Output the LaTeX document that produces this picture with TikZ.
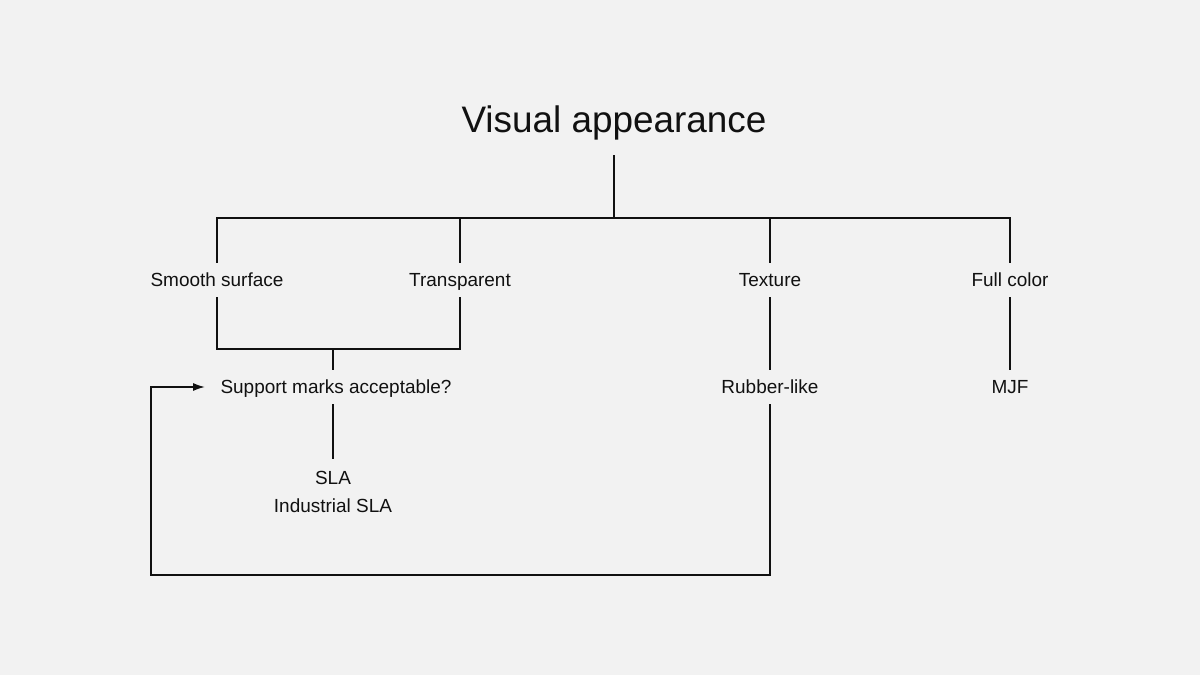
\documentclass[tikz,border=0pt]{standalone}
\usepackage{fontspec}
\setmainfont{Liberation Sans}
\usetikzlibrary{arrows.meta}
\definecolor{bg}{HTML}{F2F2F2}
\definecolor{ink}{HTML}{111111}
\begin{document}
\begin{tikzpicture}[x=0.02cm,y=-0.02cm,
  wire/.style={draw=ink,line width=1.1pt},
  lbl/.style={font=\fontsize{10.8}{13}\selectfont, text=ink, inner sep=0pt, text height=7.7pt, text depth=0pt, minimum height=0.68cm},
  ttl/.style={font=\fontsize{21}{25}\selectfont, text=ink, inner sep=0pt, text height=15pt, text depth=0pt, minimum height=1.44cm}]
\fill[bg] (0,0) rectangle (1200,675);
\useasboundingbox (0,0) rectangle (1200,675);

\node[ttl] (title) at (614,119) {Visual appearance};
\node[lbl] (ss) at (217,280) {Smooth surface};
\node[lbl] (tr) at (460,280) {Transparent};
\node[lbl] (tx) at (770,280) {Texture};
\node[lbl] (fc) at (1010,280) {Full color};
\node[lbl] (sm) at (336,387) {Support marks acceptable?};
\node[lbl] (rl) at (770,387) {Rubber-like};
\node[lbl] (mjf) at (1010,387) {MJF};
\node[lbl,minimum height=0.76cm] (sla) at (333,478) {SLA};
\node[lbl] (isla) at (333,506) {Industrial SLA};

\coordinate (hub) at (614,218);
\coordinate (join) at (333,349);
\coordinate (loopR) at (770,575);
\coordinate (loopL) at (151,575);

% top tree
\draw[wire] (title.south) -- (hub);
\draw[wire] (ss.north) |- (hub);
\draw[wire] (fc.north) |- (hub);
\draw[wire] (tr.north) -- (tr.north |- hub);
\draw[wire] (tx.north) -- (tx.north |- hub);

% smooth + transparent join
\draw[wire] (ss.south) |- (join) -| (tr.south);
\draw[wire] (join) -- (join |- sm.north);
\draw[wire] (join |- sm.south) -- (join |- sla.north);

% texture and full color
\draw[wire] (tx.south) -- (rl.north);
\draw[wire] (fc.south) -- (mjf.north);

% loop back
\draw[wire,-{Latex[length=0.24cm,width=0.16cm]},shorten >=0.3cm]
  (rl.south) -- (loopR) -- (loopL) |- (sm.west);
\end{tikzpicture}
\end{document}
